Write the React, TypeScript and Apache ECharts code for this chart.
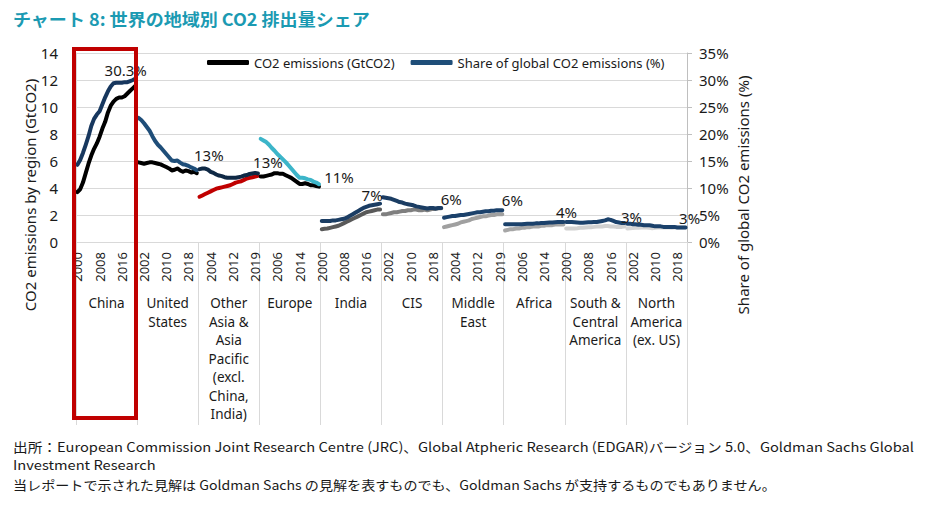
import React, { useEffect, useRef } from "react";
import * as echarts from "echarts";

// ---------- data ----------
const regions = [
  "China",
  "United\nStates",
  "Other\nAsia &\nAsia\nPacific\n(excl.\nChina,\nIndia)",
  "Europe",
  "India",
  "CIS",
  "Middle\nEast",
  "Africa",
  "South &\nCentral\nAmerica",
  "North\nAmerica\n(ex. US)",
];

// year tick labels shown every 8th slot along the axis (22 slots per region)
const yearTickLabels = [
  "2000", "2008", "2016", "2002", "2010", "2018", "2004", "2012", "2019", "2006", "2014",
  "2000", "2008", "2016", "2002", "2010", "2018", "2004", "2012", "2019", "2006", "2014",
  "2000", "2008", "2016", "2002", "2010", "2018",
];

// CO2 emissions (GtCO2), 22 points per region
const emChina = [3.7, 3.9, 4.4, 5.1, 5.8, 6.4, 6.9, 7.3, 7.8, 8.4, 8.9, 9.6, 10.1, 10.4, 10.6, 10.7, 10.7, 10.8, 11.0, 11.2, 11.4, 11.6];
const emUS = [5.9, 5.85, 5.8, 5.85, 5.9, 5.9, 5.85, 5.8, 5.75, 5.65, 5.55, 5.45, 5.3, 5.35, 5.45, 5.3, 5.2, 5.3, 5.25, 5.15, 5.2, 5.1];
const emOtherAsia = [3.35, 3.45, 3.55, 3.65, 3.75, 3.85, 3.95, 4.0, 4.05, 4.1, 4.15, 4.2, 4.3, 4.4, 4.45, 4.5, 4.6, 4.7, 4.75, 4.8, 4.85, 4.9];
const emEurope = [4.85, 4.85, 4.9, 4.95, 5.0, 5.1, 5.1, 5.05, 5.05, 4.95, 4.85, 4.75, 4.6, 4.45, 4.3, 4.3, 4.35, 4.3, 4.2, 4.2, 4.15, 4.1];
const emIndia = [0.95, 0.98, 1.0, 1.05, 1.1, 1.15, 1.2, 1.3, 1.4, 1.5, 1.6, 1.7, 1.8, 1.9, 2.0, 2.1, 2.2, 2.25, 2.3, 2.35, 2.4, 2.4];
const emCIS = [2.05, 2.05, 2.1, 2.15, 2.2, 2.2, 2.25, 2.3, 2.3, 2.35, 2.35, 2.4, 2.4, 2.35, 2.35, 2.4, 2.35, 2.4, 2.45, 2.45, 2.5, 2.5];
const emMiddleEast = [1.1, 1.15, 1.2, 1.25, 1.3, 1.35, 1.45, 1.5, 1.55, 1.6, 1.7, 1.75, 1.8, 1.85, 1.9, 1.9, 1.95, 2.0, 2.0, 2.05, 2.05, 2.05];
const emAfrica = [0.85, 0.9, 0.95, 0.95, 1.0, 1.0, 1.05, 1.05, 1.1, 1.1, 1.15, 1.15, 1.15, 1.2, 1.2, 1.25, 1.25, 1.25, 1.3, 1.3, 1.3, 1.3];
const emSCAmerica = [1.0, 1.0, 1.0, 1.0, 1.02, 1.05, 1.05, 1.08, 1.1, 1.1, 1.12, 1.15, 1.15, 1.15, 1.18, 1.18, 1.15, 1.15, 1.12, 1.12, 1.12, 1.15];
const emNAmerica = [1.0, 1.02, 1.03, 1.05, 1.05, 1.07, 1.07, 1.08, 1.05, 1.02, 1.05, 1.07, 1.08, 1.08, 1.08, 1.07, 1.06, 1.07, 1.08, 1.08, 1.08, 1.08];

// Share of global CO2 emissions (%), 22 points per region
const shChina = [14.3, 15.2, 16.5, 18.0, 19.6, 21.5, 22.8, 23.6, 24.2, 25.5, 26.8, 27.9, 28.8, 29.4, 29.5, 29.5, 29.5, 29.6, 29.6, 29.8, 30.0, 30.3];
const shUS = [23.0, 22.6, 22.0, 21.3, 20.6, 19.6, 18.7, 18.0, 17.5, 16.9, 16.3, 15.7, 15.1, 15.0, 15.1, 14.7, 14.4, 14.3, 14.1, 13.8, 13.6, 13.3];
const shOtherAsia = [13.5, 13.6, 13.6, 13.4, 13.0, 12.8, 12.5, 12.3, 12.2, 12.0, 11.9, 11.9, 11.9, 11.9, 12.0, 12.1, 12.3, 12.4, 12.6, 12.7, 12.8, 12.7];
const shEurope = [19.1, 18.8, 18.5, 18.0, 17.4, 16.9, 16.3, 15.8, 15.3, 14.8, 14.2, 13.6, 13.0, 12.4, 11.9, 11.9, 11.8, 11.6, 11.5, 11.2, 11.0, 10.7];
const shIndia = [3.9, 3.9, 3.9, 3.9, 4.0, 4.0, 4.1, 4.2, 4.3, 4.5, 4.8, 5.1, 5.4, 5.7, 6.0, 6.3, 6.5, 6.7, 6.8, 6.9, 7.0, 7.1];
const shCIS = [8.3, 8.2, 8.1, 8.0, 7.8, 7.6, 7.4, 7.3, 7.1, 7.0, 6.9, 6.8, 6.6, 6.5, 6.4, 6.3, 6.2, 6.3, 6.3, 6.2, 6.3, 6.3];
const shMiddleEast = [4.5, 4.6, 4.7, 4.8, 4.8, 4.9, 5.0, 5.0, 5.1, 5.2, 5.3, 5.4, 5.5, 5.5, 5.6, 5.7, 5.7, 5.8, 5.8, 5.9, 5.9, 5.9];
const shAfrica = [3.3, 3.3, 3.3, 3.3, 3.3, 3.3, 3.3, 3.35, 3.4, 3.4, 3.4, 3.45, 3.45, 3.5, 3.5, 3.55, 3.6, 3.6, 3.65, 3.7, 3.7, 3.7];
const shSCAmerica = [3.7, 3.7, 3.7, 3.65, 3.6, 3.55, 3.55, 3.6, 3.65, 3.65, 3.7, 3.7, 3.8, 3.9, 4.0, 4.2, 4.1, 3.9, 3.7, 3.6, 3.5, 3.5];
const shNAmerica = [3.4, 3.4, 3.3, 3.3, 3.2, 3.2, 3.1, 3.1, 3.1, 3.0, 2.9, 2.9, 2.9, 2.8, 2.8, 2.8, 2.8, 2.8, 2.7, 2.7, 2.7, 2.7];

const shareEndLabels = ["30.3%", "13%", "13%", "11%", "7%", "6%", "6%", "4%", "3%", "3%"];

const yLeftTicks = { min: 0, max: 14, interval: 2 };
const yRightTicks = { min: 0, max: 35, interval: 5 };

// ---------- styling ----------
const emissionsData = [emChina, emUS, emOtherAsia, emEurope, emIndia, emCIS, emMiddleEast, emAfrica, emSCAmerica, emNAmerica];
const shareData = [shChina, shUS, shOtherAsia, shEurope, shIndia, shCIS, shMiddleEast, shAfrica, shSCAmerica, shNAmerica];
const emColors = ["#000000", "#000000", "#c00000", "#000000", "#595959", "#7f7f7f", "#a0a0a0", "#a6a6a6", "#d0d0d0", "#d6d6d6"];
const shColors = ["#17375e", "#1f4e79", "#0f2945", "#3cb5c9", "#1b3d63", "#1b3d63", "#1b416b", "#1b416b", "#1b416b", "#1b416b"];
const labelOffsets = [
  [-10, -8], [12, -15], [10, -11], [20, -7], [-8, -9], [10, -9], [10, -10], [3, -10], [7, -6], [4, -9],
];

const SLOTS = 22;
const TOTAL = SLOTS * regions.length;
const EM_NAME = "CO2 emissions (GtCO2)";
const SH_NAME = "Share of global CO2 emissions (%)";
const FONT = '"Noto Sans", "Open Sans", sans-serif';
const JP = '"Noto Sans CJK JP", "Noto Sans", sans-serif';

function place(values: number[], r: number) {
  const arr: (number | null)[] = new Array(TOTAL).fill(null);
  values.forEach((v, i) => (arr[r * SLOTS + i] = v));
  return arr;
}

function measure(text: string, font: string) {
  const c = document.createElement("canvas").getContext("2d");
  if (!c) return 1;
  c.font = font;
  return c.measureText(text).width || 1;
}

const footLine1 =
  "出所：European Commission Joint Research Centre (JRC)、Global Atpheric Research (EDGAR)バージョン 5.0、Goldman Sachs Global";
const footLine2 = "Investment Research";
const footLine3 =
  "当レポートで示された見解は Goldman Sachs の見解を表すものでも、Goldman Sachs が支持するものでもありません。";
const titleText = "チャート 8: 世界の地域別 CO2 排出量シェア";

export default function App() {
  const ref = useRef<HTMLDivElement>(null);

  useEffect(() => {
    if (!ref.current) return;
    const chart = echarts.init(ref.current, undefined, { renderer: "svg" });

    const categories = Array.from({ length: TOTAL }, (_, i) => String(i));
    const series: any[] = [];
    regions.forEach((_, r) => {
      series.push({
        type: "line",
        name: EM_NAME,
        xAxisIndex: 0,
        yAxisIndex: 0,
        data: place(emissionsData[r], r),
        showSymbol: false,
        silent: true,
        connectNulls: false,
        lineStyle: { color: emColors[r], width: 4, cap: "round", join: "round" },
        itemStyle: { color: emColors[r] },
        z: 2,
      });
    });
    regions.forEach((_, r) => {
      const vals = shareData[r];
      const lastIdx = r * SLOTS + vals.length - 1;
      series.push({
        type: "line",
        name: SH_NAME,
        xAxisIndex: 0,
        yAxisIndex: 1,
        data: place(vals, r),
        showSymbol: false,
        silent: true,
        connectNulls: false,
        lineStyle: { color: shColors[r], width: 4, cap: "round", join: "round" },
        itemStyle: { color: shColors[r] },
        z: 3,
        markPoint: {
          silent: true,
          symbol: "circle",
          symbolSize: 1,
          itemStyle: { color: "rgba(0,0,0,0)" },
          data: [
            {
              coord: [String(lastIdx), vals[vals.length - 1]],
              label: {
                show: true,
                formatter: shareEndLabels[r],
                position: "inside",
                offset: labelOffsets[r],
                color: "#1a1a1a",
                fontSize: 15,
                fontFamily: FONT,
              },
            },
          ],
        },
      });
    });

    const titleFont = `bold 17px ${JP}`;
    const footFont = `13px ${JP}`;
    const titleScale = 357 / measure(titleText, titleFont);
    const f1Scale = 902 / measure(footLine1, footFont);
    const f2Scale = f1Scale;
    const f3Scale = 764 / measure(footLine3, footFont);

    const option: any = {
      animation: false,
      textStyle: { fontFamily: FONT },
      grid: { left: 76, right: 243, top: 53, bottom: 273, containLabel: false },
      legend: {
        left: 202,
        top: 51,
        itemWidth: 42,
        itemHeight: 5,
        itemGap: 16,
        icon: "roundRect",
        selectedMode: false,
        textStyle: { fontSize: 13, color: "#1a1a1a", fontFamily: FONT },
        data: [
          { name: EM_NAME, itemStyle: { color: "#000000" } },
          { name: SH_NAME, itemStyle: { color: "#1f4e79" } },
        ],
      },
      xAxis: [
        {
          type: "category",
          data: categories,
          boundaryGap: true,
          axisLine: { show: true, lineStyle: { color: "#d9d9d9", width: 1 } },
          axisTick: { show: false },
          axisLabel: {
            interval: 7,
            rotate: 90,
            margin: 10,
            fontSize: 13,
            color: "#1a1a1a",
            fontFamily: FONT,
            formatter: (_v: string, idx: number) => (idx % 8 === 0 ? yearTickLabels[idx / 8] ?? "" : ""),
          },
          splitLine: { show: false },
        },
        {
          type: "category",
          data: regions,
          position: "bottom",
          boundaryGap: true,
          axisLine: { show: false },
          axisTick: { show: true, interval: 0, length: 183, lineStyle: { color: "#d9d9d9", width: 1 } },
          axisLabel: {
            interval: 0,
            margin: 52,
            fontSize: 13.5,
            lineHeight: 18.5,
            color: "#1a1a1a",
            fontFamily: FONT,
            verticalAlign: "top",
          },
          splitLine: { show: false },
        },
      ],
      yAxis: [
        {
          type: "value",
          ...yLeftTicks,
          axisLine: { show: true, lineStyle: { color: "#d9d9d9" } },
          axisTick: { show: false },
          axisLabel: { fontSize: 15, color: "#1a1a1a", margin: 18, fontFamily: FONT },
          splitLine: { show: true, lineStyle: { color: "#d9d9d9", width: 1 } },
        },
        {
          type: "value",
          ...yRightTicks,
          position: "right",
          axisLine: { show: true, lineStyle: { color: "#bfbfbf" } },
          axisTick: { show: true, length: 5, lineStyle: { color: "#bfbfbf" } },
          axisLabel: { fontSize: 15, color: "#1a1a1a", margin: 12, formatter: "{value}%", fontFamily: FONT },
          splitLine: { show: false },
        },
      ],
      graphic: [
        {
          type: "text",
          x: 13,
          y: 19,
          scaleX: titleScale,
          style: { text: titleText, font: titleFont, fill: "#1b9ab2", textAlign: "left", textVerticalAlign: "middle" },
        },
        {
          type: "text",
          x: 30,
          y: 195,
          rotation: Math.PI / 2,
          style: {
            text: "CO2 emissions by region (GtCO2)",
            font: `15px ${FONT}`,
            fill: "#1a1a1a",
            textAlign: "center",
            textVerticalAlign: "middle",
          },
        },
        {
          type: "text",
          x: 743,
          y: 195,
          rotation: Math.PI / 2,
          style: {
            text: "Share of global CO2 emissions (%)",
            font: `15px ${FONT}`,
            fill: "#1a1a1a",
            textAlign: "center",
            textVerticalAlign: "middle",
          },
        },
        {
          type: "rect",
          shape: { x: 74, y: 49, width: 62, height: 369 },
          style: { fill: "none", stroke: "#c00000", lineWidth: 4 },
          z: 100,
        },
        {
          type: "text",
          x: 13,
          y: 446,
          scaleX: f1Scale,
          style: { text: footLine1, font: footFont, fill: "#1a1a1a", textAlign: "left", textVerticalAlign: "middle" },
        },
        {
          type: "text",
          x: 13,
          y: 464,
          scaleX: f2Scale,
          style: { text: footLine2, font: footFont, fill: "#1a1a1a", textAlign: "left", textVerticalAlign: "middle" },
        },
        {
          type: "text",
          x: 13,
          y: 484,
          scaleX: f3Scale,
          style: { text: footLine3, font: footFont, fill: "#1a1a1a", textAlign: "left", textVerticalAlign: "middle" },
        },
      ],
      series,
    };

    chart.setOption(option);
    return () => chart.dispose();
  }, []);

  return (
    <div
      ref={ref}
      style={{ position: "fixed", left: 0, top: 0, width: 930, height: 515, background: "#ffffff" }}
    />
  );
}
